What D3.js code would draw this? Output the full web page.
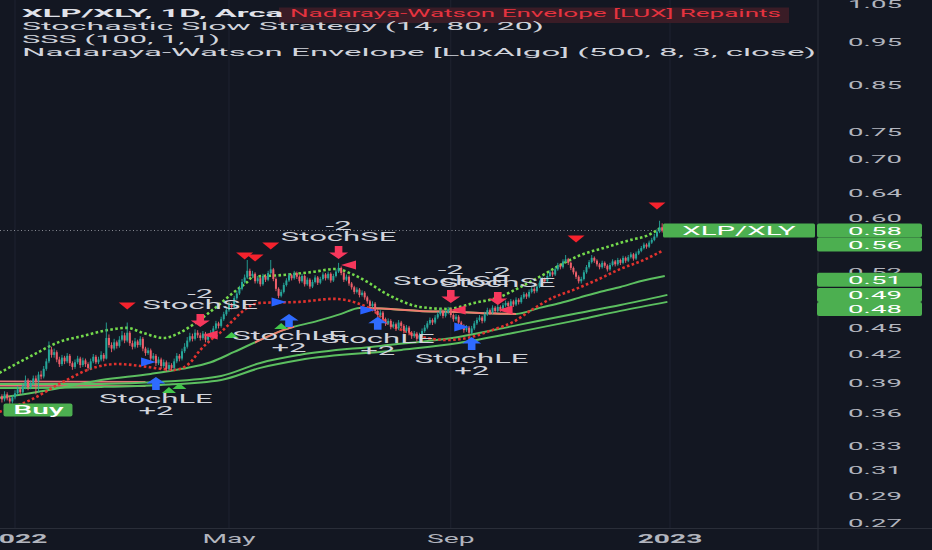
<!DOCTYPE html>
<html><head><meta charset="utf-8">
<script src="https://cdn.jsdelivr.net/npm/d3@7"></script>
<style>html,body{margin:0;padding:0;background:#131722;overflow:hidden}</style>
</head><body>
<svg id="c" width="932" height="550"></svg>
<script>
// ---------- DATA ----------
const firstBar = -6; // bar index of first candle (0 = first session of 2022)
const opens = [
.374,.376,.373,.378,.374,.371,.375,.379,.383,.380,
.386,.392,.385,.389,.394,.391,.398,.396,.404,.412,
.425,.419,.422,.414,.409,.416,.412,.418,.410,.406,
.411,.415,.408,.413,.409,.405,.412,.417,.411,.414,
.419,.415,.438,.430,.426,.433,.429,.436,.441,.435,
.444,.432,.428,.434,.430,.437,.426,.421,.424,.415,
.418,.410,.414,.407,.411,.404,.408,.405,.412,.418,
.415,.423,.428,.435,.440,.437,.444,.441,.438,.443,
.436,.440,.444,.449,.455,.452,.460,.466,.471,.478,
.475,.486,.492,.498,.507,.513,.522,.515,.518,.508,
.512,.504,.515,.510,.519,.524,.511,.498,.489,.494,
.503,.509,.516,.512,.519,.514,.508,.515,.504,.510,
.501,.507,.513,.506,.511,.517,.512,.518,.509,.515,
.521,.526,.519,.510,.514,.505,.500,.494,.497,.490,
.493,.487,.482,.476,.479,.470,.465,.468,.460,.455,
.458,.451,.454,.449,.456,.452,.446,.450,.444,.440,
.443,.437,.441,.446,.450,.455,.459,.456,.462,.466,
.470,.464,.468,.472,.465,.460,.463,.456,.452,.447,
.450,.444,.449,.455,.459,.462,.458,.466,.471,.468,
.474,.470,.475,.472,.477,.480,.476,.482,.478,.484,
.481,.487,.491,.488,.494,.498,.495,.501,.506,.511,
.508,.515,.520,.517,.524,.530,.527,.535,.538,.533,
.526,.520,.514,.508,.511,.520,.527,.534,.540,.536,
.531,.527,.533,.529,.524,.530,.535,.531,.537,.533,
.540,.536,.541,.545,.539,.546,.550,.554,.559,.556,
.562,.566,.571,.578,.585];
const highs = [
.379,.378,.381,.380,.376,.377,.382,.386,.385,.389,
.397,.394,.392,.397,.397,.401,.402,.407,.415,.434,
.428,.426,.424,.417,.419,.418,.421,.420,.412,.414,
.418,.417,.416,.415,.411,.415,.420,.419,.417,.423,
.421,.456,.442,.433,.437,.435,.440,.446,.444,.456,
.446,.435,.438,.436,.440,.439,.428,.427,.426,.421,
.420,.417,.416,.414,.413,.411,.410,.415,.421,.420,
.426,.432,.439,.444,.443,.448,.447,.444,.446,.445,
.443,.447,.452,.458,.457,.463,.469,.475,.481,.480,
.489,.496,.502,.511,.517,.537,.525,.522,.520,.515,
.514,.518,.517,.522,.537,.526,.513,.500,.497,.506,
.512,.519,.518,.522,.521,.516,.518,.517,.513,.512,
.510,.516,.515,.514,.520,.519,.521,.520,.518,.524,
.533,.528,.521,.517,.516,.507,.502,.500,.499,.496,
.495,.489,.484,.482,.481,.472,.471,.470,.462,.461,
.460,.457,.456,.459,.458,.454,.453,.452,.446,.446,
.445,.444,.449,.453,.458,.462,.461,.465,.469,.473,
.472,.471,.475,.474,.467,.466,.465,.458,.454,.453,
.452,.452,.458,.462,.465,.464,.469,.474,.473,.477,
.476,.478,.477,.480,.483,.482,.485,.484,.487,.486,
.490,.494,.493,.497,.501,.500,.504,.509,.514,.513,
.518,.523,.522,.527,.533,.532,.538,.544,.540,.535,
.528,.522,.516,.514,.523,.530,.537,.544,.542,.538,
.533,.536,.535,.531,.533,.538,.537,.540,.539,.543,
.542,.544,.548,.547,.549,.553,.557,.562,.561,.565,
.569,.575,.582,.595,.591];
const lows = [
.371,.370,.371,.372,.368,.369,.373,.377,.378,.378,
.383,.382,.383,.387,.378,.380,.393,.394,.402,.410,
.416,.416,.411,.406,.407,.409,.410,.407,.403,.404,
.409,.405,.406,.406,.402,.403,.410,.409,.409,.412,
.412,.414,.427,.422,.424,.426,.427,.434,.432,.433,
.429,.425,.426,.427,.428,.423,.418,.419,.412,.413,
.407,.408,.404,.405,.401,.402,.402,.403,.410,.412,
.413,.421,.426,.433,.434,.435,.438,.435,.436,.433,
.434,.438,.442,.447,.449,.450,.458,.464,.469,.472,
.473,.484,.490,.496,.505,.511,.512,.512,.505,.505,
.501,.502,.507,.508,.517,.508,.495,.486,.487,.492,
.501,.507,.509,.510,.511,.505,.506,.501,.502,.498,
.499,.505,.503,.504,.509,.509,.510,.506,.507,.513,
.519,.516,.507,.508,.502,.497,.491,.492,.487,.488,
.484,.479,.473,.474,.467,.462,.463,.457,.452,.453,
.448,.449,.446,.447,.449,.443,.444,.441,.437,.438,
.434,.435,.439,.444,.448,.453,.453,.454,.460,.464,
.461,.462,.466,.462,.457,.458,.453,.449,.444,.445,
.441,.442,.447,.453,.457,.455,.456,.464,.465,.466,
.467,.468,.469,.470,.475,.473,.474,.475,.476,.478,
.479,.485,.485,.486,.492,.492,.493,.499,.504,.505,
.506,.513,.514,.515,.522,.524,.525,.533,.530,.523,
.517,.511,.505,.505,.509,.518,.525,.532,.533,.528,
.524,.525,.526,.521,.522,.528,.528,.529,.530,.531,
.533,.534,.539,.536,.537,.544,.548,.552,.553,.554,
.560,.564,.569,.576,.577];
const closes = [
.376,.373,.378,.374,.371,.375,.379,.383,.380,.386,
.392,.385,.389,.394,.391,.398,.396,.404,.412,.425,
.419,.422,.414,.409,.416,.412,.418,.410,.406,.411,
.415,.408,.413,.409,.405,.412,.417,.411,.414,.419,
.415,.438,.430,.426,.433,.429,.436,.441,.435,.444,
.432,.428,.434,.430,.437,.426,.421,.424,.415,.418,
.410,.414,.407,.411,.404,.408,.405,.412,.418,.415,
.423,.428,.435,.440,.437,.444,.441,.438,.443,.436,
.440,.444,.449,.455,.452,.460,.466,.471,.478,.475,
.486,.492,.498,.507,.513,.522,.515,.518,.508,.512,
.504,.515,.510,.519,.524,.511,.498,.489,.494,.503,
.509,.516,.512,.519,.514,.508,.515,.504,.510,.501,
.507,.513,.506,.511,.517,.512,.518,.509,.515,.521,
.526,.519,.510,.514,.505,.500,.494,.497,.490,.493,
.487,.482,.476,.479,.470,.465,.468,.460,.455,.458,
.451,.454,.449,.456,.452,.446,.450,.444,.440,.443,
.437,.441,.446,.450,.455,.459,.456,.462,.466,.470,
.464,.468,.472,.465,.460,.463,.456,.452,.447,.450,
.444,.449,.455,.459,.462,.458,.466,.471,.468,.474,
.470,.475,.472,.477,.480,.476,.482,.478,.484,.481,
.487,.491,.488,.494,.498,.495,.501,.506,.511,.508,
.515,.520,.517,.524,.530,.527,.535,.538,.533,.526,
.520,.514,.508,.511,.520,.527,.534,.540,.536,.531,
.527,.533,.529,.524,.530,.535,.531,.537,.533,.540,
.536,.541,.545,.539,.546,.550,.554,.559,.556,.562,
.566,.571,.578,.585,.580];

// Nadaraya-Watson envelope [bar, price]
const upperEnv = [[-6,.3997],[7,.4190],[17,.4335],[26,.4403],[36,.4473],[43,.4497],[49,.4438],[57,.4380],[63,.4438],[68,.4530],[76,.4720],[84,.4940],[89,.5071],[91,.5137],[103,.5164],[114,.5205],[123,.5246],[129,.5178],[135,.5071],[141,.4940],[148,.4825],[155,.4750],[166,.4725],[176,.4800],[186,.4877],[193,.4992],[201,.5137],[209,.5301],[216,.5428],[227,.5557],[236,.5660],[242,.5719],[248,.5855]];
const lowerEnv = [[-6,.3610],[6,.3725],[17,.3884],[30,.4050],[39,.4092],[48,.4071],[56,.4040],[61,.4029],[67,.4103],[71,.4245],[75,.4357],[79,.4450],[83,.4570],[86,.4660],[90,.4760],[94,.4800],[109,.4813],[122,.4851],[131,.4800],[138,.4689],[143,.4544],[148,.4473],[156,.4392],[166,.4357],[175,.4392],[183,.4473],[191,.4568],[198,.4713],[206,.4864],[214,.4966],[223,.5097],[232,.5246],[241,.5371],[248,.5499]];
// SSS line and moving averages [bar, price]
const fastLine = [[-6,.3745],[13,.3823],[33,.3925],[52,.3987],[64,.4040],[75,.4110],[84,.4223],[94,.4357],[103,.4473],[116,.4580],[125,.4664],[132,.4738],[144,.4725],[155,.4701],[167,.4689],[178,.4676],[192,.4664],[201,.4738],[209,.4800],[216,.4864],[224,.4940],[232,.5005],[240,.5084],[249,.5151]];
const fastSalmonRanges = [[92,107],[132,192]];
const ma2 = [[-6,.3884],[33,.3884],[56,.3905],[79,.3966],[94,.4103],[109,.4190],[140,.4290],[170,.4392],[193,.4532],[216,.4676],[232,.4775],[250,.4902]];
const ma3 = [[-6,.3843],[33,.3854],[56,.3874],[79,.3925],[94,.4050],[109,.4135],[148,.4245],[170,.4323],[193,.4450],[216,.4592],[232,.4701],[250,.4813]];
const pinkA = [[-6,.3910],[50,.3905]];
const pinkB = [[-6,.3866],[50,.3862]];

// signal markers
const envSellBars = [43,88,92,98,215,246];
const envSellPrices = [.4762,.5427,.5399,.5571,.5674,.6185];
const blueRightBars = [51,101,135,171];
const blueRightPrices = [.4114,.4813,.4713,.4508];
const redLeftBars = [75,128,170,188];
const redLeftPrices = [.4415,.5301,.4713,.4713];
const greenUpBars = [59,63,83,102];
const greenUpPrices = [.3823,.3864,.4415,.4520];
const longBars = [54,105,139,175];
const longPrices = [.3956,.4664,.4628,.4391];
const shortBars = [71,124,167,185];
const shortPrices = [.4508,.5385,.4800,.4775];
const buyBar = 9, buyPrice = .3629;

// axes
const xTickBars = [0,82,167,251];
const xTickLabels = ["2022","May","Sep","2023"];
const yTicks = [1.05,.95,.85,.75,.70,.64,.60,.52,.45,.42,.39,.36,.33,.31,.29,.27];
const tagValues = [.58,.56,.51,.49,.48];
const symbol = "XLP/XLY";
const legendLines = ["XLP/XLY, 1D, Arca","Stochastic Slow Strategy (14, 80, 20)","SSS (100, 1, 1)","Nadaraya-Watson Envelope [LuxAlgo] (500, 8, 3, close)"];
const repaintText = "Nadaraya-Watson Envelope [LUX] Repaints";

// ---------- DRAW ----------
const svg = d3.select("#c");
const x = d3.scaleLinear().domain([0,251]).range([15,670]);
const y = d3.scaleLog().domain([0.27,1.05]).range([523,3.5]);
const FONT = "Roboto, 'Noto Sans', 'DejaVu Sans', sans-serif";
const SX = 2.35;
function txt(g, px, py, s, o={}) {
  const sx = o.sx || SX;
  const t = g.append("text").attr("transform",`translate(${px},${py}) scale(${sx},1)`)
    .attr("text-anchor", o.anchor||"middle").attr("font-family",FONT)
    .attr("font-size", o.size||11.5).attr("font-weight", o.weight||400)
    .attr("fill", o.fill||"#d1d4dc").text(s);
  if (o.width) t.attr("textLength", o.width/sx).attr("lengthAdjust","spacingAndGlyphs");
  return t;
}

svg.append("rect").attr("width",932).attr("height",550).attr("fill","#131722");
const defs = svg.append("defs");
defs.append("clipPath").attr("id","plot").append("rect").attr("x",0).attr("y",0).attr("width",817).attr("height",528);

// grid
const grid = svg.append("g");
xTickBars.forEach(b => grid.append("line").attr("x1",x(b)).attr("x2",x(b)).attr("y1",0).attr("y2",528).attr("stroke","#1f2330").attr("stroke-width",1));
svg.append("line").attr("x1",818).attr("x2",818).attr("y1",0).attr("y2",550).attr("stroke","#2a2e39");
svg.append("line").attr("x1",0).attr("x2",932).attr("y1",528.5).attr("y2",528.5).attr("stroke","#2a2e39");

const plot = svg.append("g").attr("clip-path","url(#plot)");
const lastClose = closes[closes.length-1];
const lastBar = firstBar + closes.length - 1;

// last price dotted line
plot.append("line").attr("x1",0).attr("x2",x(lastBar)).attr("y1",y(lastClose)).attr("y2",y(lastClose))
  .attr("stroke","#8a8d96").attr("stroke-width",1).attr("stroke-dasharray","1,2.5");

const line = d3.line().x(d=>x(d[0])).y(d=>y(d[1])).curve(d3.curveMonotoneX);

// MAs
plot.append("path").attr("d",line(pinkA)).attr("fill","none").attr("stroke","#e8747a").attr("stroke-width",1.6);
plot.append("path").attr("d",line(pinkB)).attr("fill","none").attr("stroke","#e8747a").attr("stroke-width",1.6);
[ma3, ma2].forEach(m => plot.append("path").attr("d",line(m)).attr("fill","none").attr("stroke","#5cbf60").attr("stroke-width",2));
plot.append("path").attr("d",line(fastLine)).attr("fill","none").attr("stroke","#5cbf60").attr("stroke-width",2);
fastSalmonRanges.forEach((r,k) => {
  defs.append("clipPath").attr("id","sal"+k).append("rect").attr("x",x(r[0])).attr("width",x(r[1])-x(r[0])).attr("y",0).attr("height",528);
  plot.append("path").attr("d",line(fastLine)).attr("fill","none").attr("stroke","#f07a6e").attr("stroke-width",2).attr("clip-path",`url(#sal${k})`);
});

// envelopes
plot.append("path").attr("d",line(upperEnv)).attr("fill","none").attr("stroke","#74d94c").attr("stroke-width",2.6).attr("stroke-dasharray","2.6,2.4");
plot.append("path").attr("d",line(lowerEnv)).attr("fill","none").attr("stroke","#e0322e").attr("stroke-width",2.6).attr("stroke-dasharray","2.6,2.4");

// candles
const cg = plot.append("g");
closes.forEach((c,i) => {
  const o = opens[i], bx = x(firstBar+i);
  const hi = Math.max(highs[i], o, c), lo = Math.min(lows[i], o, c);
  const col = c >= o ? "#26a69a" : "#ef5f6a";
  cg.append("line").attr("x1",bx).attr("x2",bx).attr("y1",y(hi)).attr("y2",y(lo)).attr("stroke",col).attr("stroke-width",0.9);
  const top = y(Math.max(o,c)), bot = y(Math.min(o,c));
  cg.append("rect").attr("x",bx-1).attr("width",2).attr("y",top).attr("height",Math.max(1,bot-top)).attr("fill",col);
});

// markers
const mk = plot.append("g");
envSellBars.forEach((b,i) => { const cx=x(b), cy=y(envSellPrices[i]);
  mk.append("path").attr("d",`M${cx-8.5},${cy-3.5}L${cx+8.5},${cy-3.5}L${cx},${cy+3.5}Z`).attr("fill","#f5222d"); });
blueRightBars.forEach((b,i) => { const cx=x(b), cy=y(blueRightPrices[i]);
  mk.append("path").attr("d",`M${cx-7},${cy-4.5}L${cx+8},${cy}L${cx-7},${cy+4.5}Z`).attr("fill","#2962ff"); });
redLeftBars.forEach((b,i) => { const cx=x(b), cy=y(redLeftPrices[i]);
  mk.append("path").attr("d",`M${cx+7},${cy-4.5}L${cx-8},${cy}L${cx+7},${cy+4.5}Z`).attr("fill","#f7375c"); });
greenUpBars.forEach((b,i) => { const cx=x(b), cy=y(greenUpPrices[i]);
  mk.append("path").attr("d",`M${cx-7},${cy+3}L${cx+7},${cy+3}L${cx},${cy-3}Z`).attr("fill","#43c64a"); });
longBars.forEach((b,i) => { const cx=x(b), t=y(longPrices[i]);
  mk.append("path").attr("d",`M${cx},${t}L${cx+9.5},${t+6.5}L${cx+3.8},${t+6.5}L${cx+3.8},${t+13}L${cx-3.8},${t+13}L${cx-3.8},${t+6.5}L${cx-9.5},${t+6.5}Z`).attr("fill","#2f6bff");
  txt(mk, cx, t+26.5, "StochLE", {size:13.5, sx:2.3});
  txt(mk, cx, t+38, "+2", {size:13.5, sx:2.3});
});
shortBars.forEach((b,i) => { const cx=x(b), t=y(shortPrices[i]);
  mk.append("path").attr("d",`M${cx},${t}L${cx+9.5},${t-6.5}L${cx+3.8},${t-6.5}L${cx+3.8},${t-13}L${cx-3.8},${t-13}L${cx-3.8},${t-6.5}L${cx-9.5},${t-6.5}Z`).attr("fill","#f7375c");
  txt(mk, cx, t-18, "StochSE", {size:13.5, sx:2.3});
  txt(mk, cx, t-29, "-2", {size:13.5, sx:2.3});
});
// Buy label
{ const cx=x(buyBar), cy=y(buyPrice);
  mk.append("rect").attr("x",cx-35).attr("y",cy-6.5).attr("width",69).attr("height",13).attr("rx",2).attr("fill","#4caf50");
  txt(mk, cx, cy+4.3, "Buy", {size:12, fill:"#ffffff", weight:500, sx:2.5}); }

// symbol tag at last price
{ const cy=y(lastClose);
  svg.append("rect").attr("x",663).attr("y",cy-7).attr("width",152).attr("height",14).attr("rx",1.5).attr("fill","#4caf50");
  txt(svg, 739, cy+4.3, symbol, {size:12, fill:"#ffffff", sx:2.45}); }

// right axis
const ax = svg.append("g");
yTicks.forEach(t => txt(ax, 875, y(t)+4.2, t.toFixed(2), {size:11.5, fill:"#b2b5be", sx:2.4}));
// tags with stacking
let prev = -1e9; const tagPos = [];
tagValues.forEach(v => { let cy = Math.max(y(v), prev+14); tagPos.push(cy); prev = cy; });
tagValues.forEach((v,i) => {
  ax.append("rect").attr("x",817).attr("y",tagPos[i]-7).attr("width",105).attr("height",14).attr("rx",2).attr("fill","#4caf50");
});
tagValues.forEach((v,i) => txt(ax, 875, tagPos[i]+4.3, v.toFixed(2), {size:11.5, fill:"#ffffff", sx:2.4}));

// bottom axis
xTickBars.forEach((b,i) => txt(svg, x(b), 543, xTickLabels[i], {size:12, fill:"#b2b5be", weight: /^\d+$/.test(xTickLabels[i]) ? 700 : 400, sx:2.35}));

// legend
const lg = svg.append("g");
lg.append("rect").attr("x",279).attr("y",7.5).attr("width",510).attr("height",15.5).attr("fill","#3a1c26");
txt(lg, 22, 16.8, legendLines[0], {anchor:"start", size:11.5, weight:700, fill:"#e1e3ea", width:261});
txt(lg, 290, 16.8, repaintText, {anchor:"start", size:11.5, fill:"#e5333f", width:491});
txt(lg, 22, 29.8, legendLines[1], {anchor:"start", size:11.5, fill:"#d1d4dc", width:522});
txt(lg, 22, 42.8, legendLines[2], {anchor:"start", size:11.5, fill:"#d1d4dc", width:198});
txt(lg, 22, 55.8, legendLines[3], {anchor:"start", size:11.5, fill:"#d1d4dc", width:794});
</script>
</body></html>
